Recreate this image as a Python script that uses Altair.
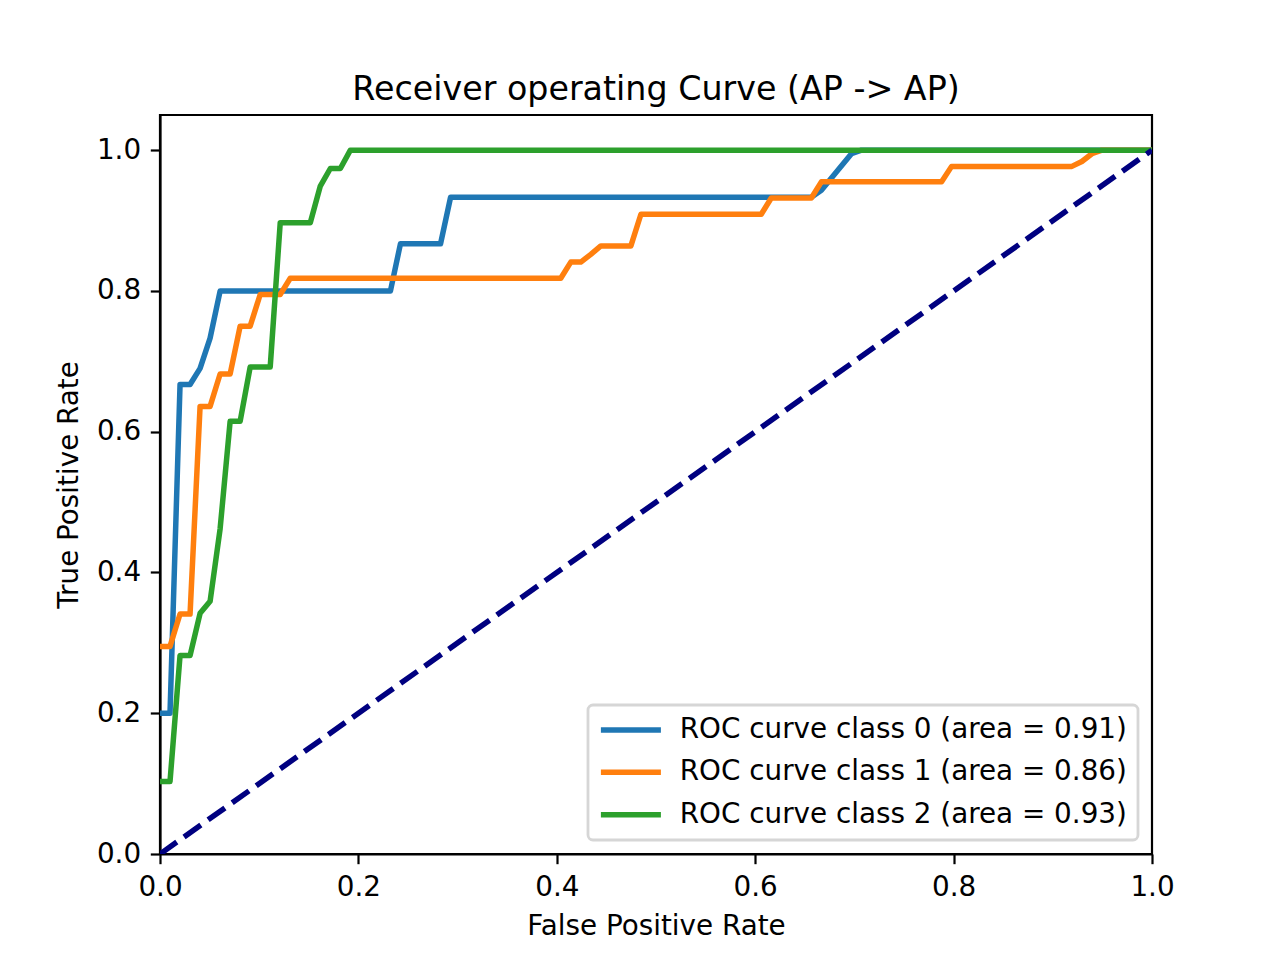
import altair as alt
import pandas as pd

# ROC points per class: false positive rate / true positive rate
fpr_class0 = [0.0, 0.0101, 0.0202, 0.0303, 0.0404, 0.0505, 0.0606, 0.2323, 0.2424,
              0.2828, 0.2929, 0.6566, 0.6667, 0.6970, 0.7071, 1.0]
tpr_class0 = [0.200, 0.200, 0.667, 0.667, 0.690, 0.733, 0.800, 0.800, 0.867,
              0.867, 0.933, 0.933, 0.943, 0.995, 1.0, 1.0]

fpr_class1 = [0.0, 0.0101, 0.0202, 0.0303, 0.0404, 0.0505, 0.0606, 0.0707, 0.0808,
              0.0909, 0.1010, 0.1212, 0.1313, 0.4040, 0.4141, 0.4242, 0.4343, 0.4444,
              0.4747, 0.4848, 0.6061, 0.6162, 0.6566, 0.6667, 0.7879, 0.7980, 0.9192,
              0.9293, 0.9394, 0.9495, 1.0]
tpr_class1 = [0.295, 0.295, 0.341, 0.341, 0.636, 0.636, 0.682, 0.682, 0.750,
              0.750, 0.795, 0.795, 0.818, 0.818, 0.841, 0.841, 0.852, 0.864,
              0.864, 0.909, 0.909, 0.932, 0.932, 0.955, 0.955, 0.977, 0.977,
              0.984, 0.995, 1.0, 1.0]

fpr_class2 = [0.0, 0.0101, 0.0202, 0.0303, 0.0404, 0.0505, 0.0606, 0.0707, 0.0808,
              0.0909, 0.1111, 0.1212, 0.1515, 0.1616, 0.1717, 0.1818, 0.1919, 1.0]
tpr_class2 = [0.103, 0.103, 0.282, 0.282, 0.342, 0.359, 0.462, 0.615, 0.615,
              0.692, 0.692, 0.897, 0.897, 0.949, 0.974, 0.974, 1.0, 1.0]

class_labels = [
    "ROC curve class 0 (area = 0.91)",
    "ROC curve class 1 (area = 0.86)",
    "ROC curve class 2 (area = 0.93)",
]
class_colors = ["#1f77b4", "#ff7f0e", "#2ca02c"]

# chance line
chance_x = [0.0, 1.0]
chance_y = [0.0, 1.0]

tick_values = [0.0, 0.2, 0.4, 0.6, 0.8, 1.0]

rows = []
for label, xs, ys in zip(class_labels,
                         [fpr_class0, fpr_class1, fpr_class2],
                         [tpr_class0, tpr_class1, tpr_class2]):
    for i, (fx, ty) in enumerate(zip(xs, ys)):
        rows.append({"series": label, "fpr": fx, "tpr": ty, "idx": i})
curves_df = pd.DataFrame(rows)
chance_df = pd.DataFrame({"fpr": chance_x, "tpr": chance_y})

x_enc = alt.X("fpr:Q", scale=alt.Scale(domain=[0, 1], nice=False, zero=False),
              axis=alt.Axis(values=tick_values, format=".1f", title="False Positive Rate",
                            titleY=80.3, titleBaseline="alphabetic"))
y_enc = alt.Y("tpr:Q", scale=alt.Scale(domain=[0, 1.05], nice=False, zero=False),
              axis=alt.Axis(values=tick_values, format=".1f", title="True Positive Rate",
                            titleX=-83, titleBaseline="alphabetic"))

curves = alt.Chart(curves_df).mark_line(strokeWidth=5.5, clip=True, strokeJoin="round").encode(
    x=x_enc,
    y=y_enc,
    color=alt.Color("series:N",
                    scale=alt.Scale(domain=class_labels, range=class_colors),
                    legend=alt.Legend(title=None)),
    order="idx:Q",
)

chance = alt.Chart(chance_df).mark_line(
    color="#000080", strokeWidth=5.5, strokeDash=[20.6, 8.9], clip=True
).encode(x="fpr:Q", y="tpr:Q")

chart = alt.layer(curves, chance).properties(
    width=992,
    height=739,
    padding={"left": 160, "top": 115, "right": 128, "bottom": 106},
    autosize=alt.AutoSizeParams(type="none"),
    title=alt.TitleParams("Receiver operating Curve (AP -> AP)", fontSize=33.3,
                          fontWeight="normal", color="black", offset=-18.5,
                          baseline="alphabetic", frame="group"),
).configure(
    font="DejaVu Sans",
    background="white",
).configure_view(
    stroke="black", strokeWidth=2.2,
).configure_axis(
    grid=False,
    domainColor="black", domainWidth=2.2,
    tickColor="black", tickWidth=2.2, tickSize=9.7,
    labelFont="DejaVu Sans", labelFontSize=27.8, labelColor="black", labelPadding=9.7,
    labelFlush=False,
    titleFont="DejaVu Sans", titleFontSize=27.8, titleColor="black", titleFontWeight="normal",
    zindex=1,
).configure_legend(
    orient="bottom-right", offset=14,
    labelFont="DejaVu Sans", labelFontSize=27.8, labelColor="black", labelLimit=0,
    symbolType="M-3,0H3", symbolSize=400, symbolStrokeWidth=5.5,
    symbolOffset=18, labelOffset=35,
    padding=11, rowPadding=13.4,
    strokeColor="#d6d6d6", strokeWidth=2.8, fillColor="white", cornerRadius=5,
)

chart.save("out.html", embed_options={"renderer": "svg", "actions": False})
